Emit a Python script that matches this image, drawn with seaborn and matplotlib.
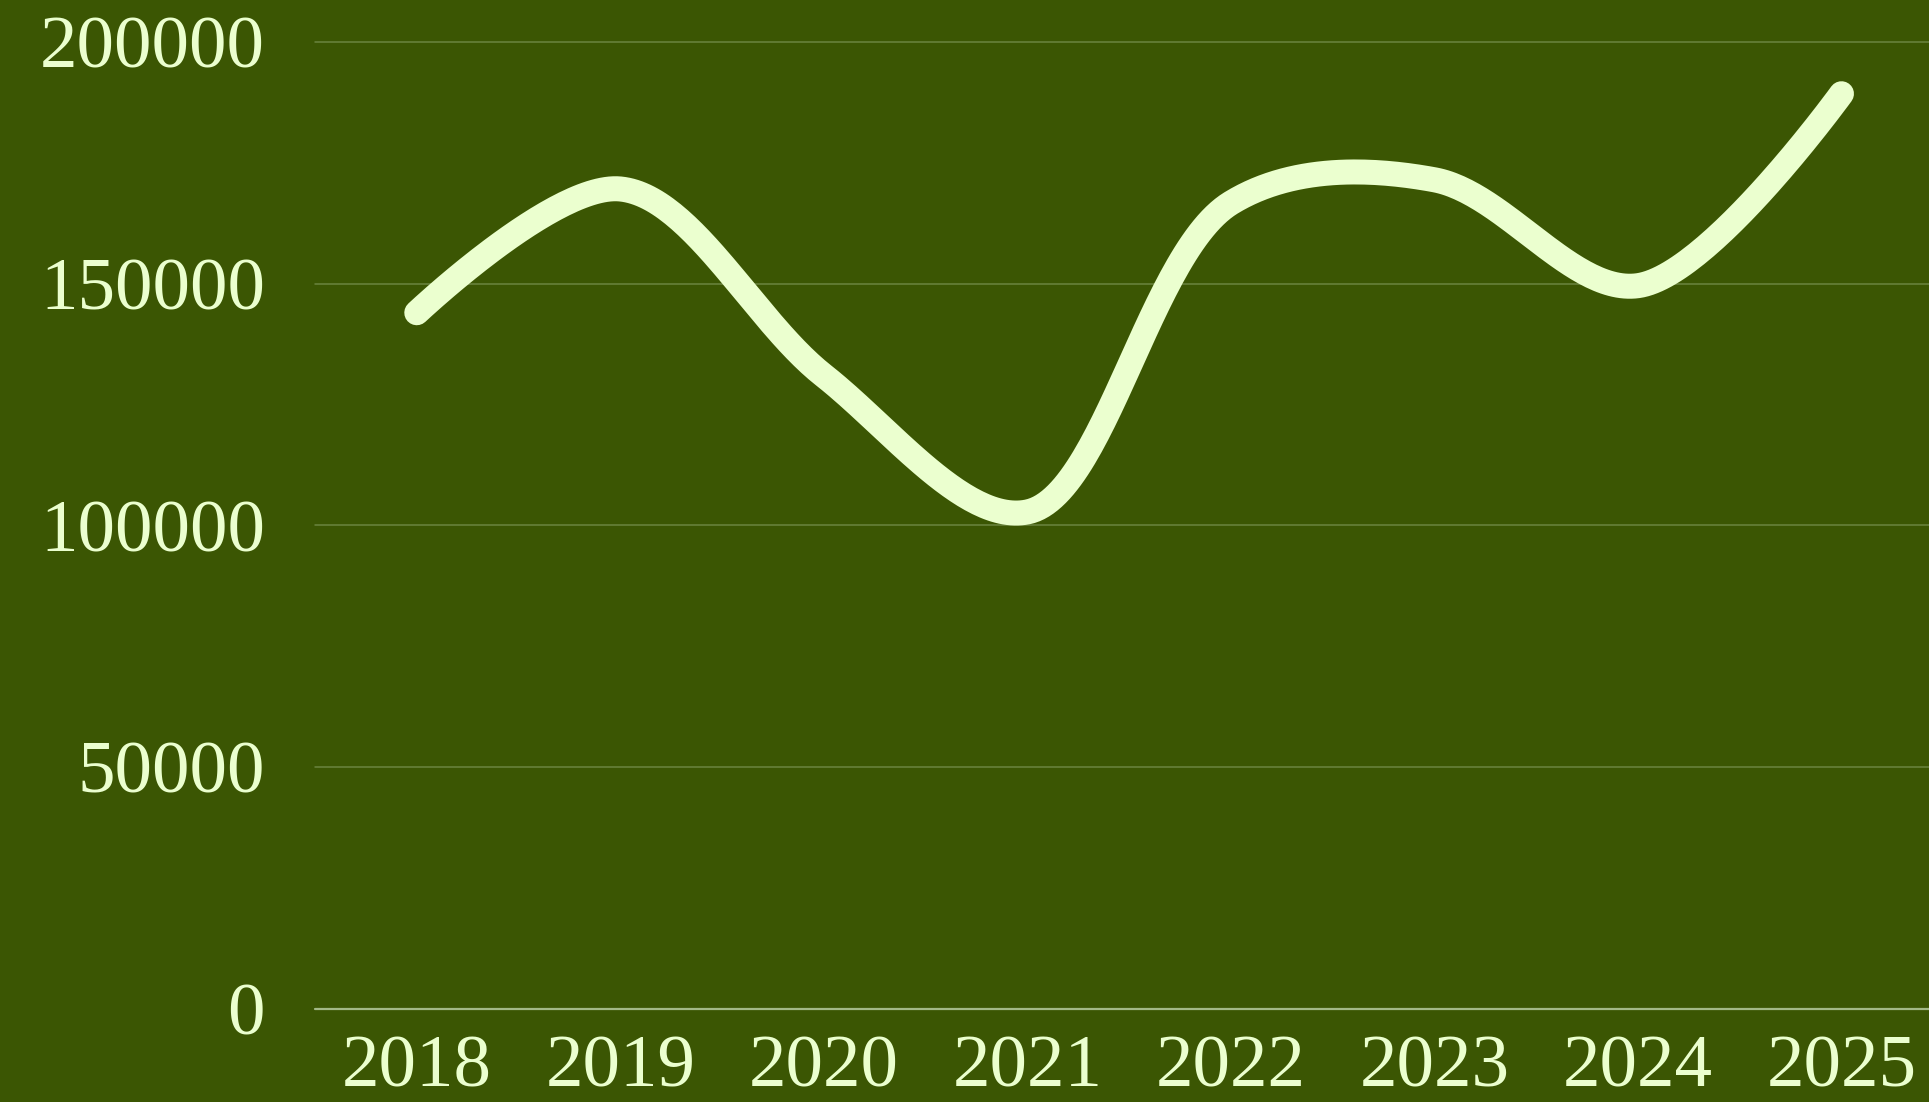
import numpy as np
import pandas as pd
import matplotlib
matplotlib.use("Agg")
import matplotlib.pyplot as plt
import seaborn as sns

years = ["2018", "2019", "2020", "2021", "2022", "2023", "2024", "2025"]
values = [144000, 169600, 131000, 102800, 166700, 171500, 149600, 189300]
y_ticks = [0, 50000, 100000, 150000, 200000]

BG = "#3b5603"
FG = "#ebffcf"

sns.set_theme(style="dark")
plt.rcParams["font.family"] = ["Liberation Serif", "DejaVu Serif"]


def catmull_rom_d3(pts, alpha=0.5, n=60):
    """Centripetal Catmull-Rom as in d3.curveCatmullRom, in pixel space."""
    pts = [np.asarray(p, float) for p in pts]
    N = len(pts)
    out = [pts[0]]
    t = np.linspace(0, 1, n)[1:]
    for i in range(N - 1):
        p1, p2 = pts[i], pts[i + 1]
        p0 = pts[i - 1] if i > 0 else None
        p3 = pts[i + 2] if i + 2 < N else None
        l12_2a = np.sum((p2 - p1) ** 2) ** alpha
        l12_a = np.sqrt(l12_2a)
        c1 = p1.copy()
        c2 = p2.copy()
        if p0 is not None:
            l01_2a = np.sum((p1 - p0) ** 2) ** alpha
            l01_a = np.sqrt(l01_2a)
            a = 2 * l01_2a + 3 * l01_a * l12_a + l12_2a
            m = 3 * l01_a * (l01_a + l12_a)
            c1 = (p1 * a - p0 * l12_2a + p2 * l01_2a) / m
        if p3 is not None:
            l23_2a = np.sum((p3 - p2) ** 2) ** alpha
            l23_a = np.sqrt(l23_2a)
            b = 2 * l23_2a + 3 * l23_a * l12_a + l12_2a
            m = 3 * l23_a * (l23_a + l12_a)
            c2 = (p2 * b + p1 * l23_2a - p3 * l12_2a) / m
        tt = t[:, None]
        seg = ((1 - tt) ** 3) * p1 + 3 * ((1 - tt) ** 2) * tt * c1 \
            + 3 * (1 - tt) * tt ** 2 * c2 + tt ** 3 * p2
        out.extend(seg)
    return np.array(out)


fig = plt.figure(figsize=(19.29, 11.02), dpi=100, facecolor=BG)
ax = fig.add_axes([0.1633, 0.0844, 0.8367, 0.8775])
ax.set_facecolor(BG)
ax.set_xlim(-0.5, 7.43)
ax.set_ylim(0, 200000)

xpos = np.arange(len(years))
disp = ax.transData.transform(np.column_stack([xpos, values]))
disp_curve = catmull_rom_d3(disp)
data_curve = ax.transData.inverted().transform(disp_curve)
curve = pd.DataFrame({"x": data_curve[:, 0], "y": data_curve[:, 1]})

sns.lineplot(data=curve, x="x", y="y", ax=ax, color=FG, linewidth=18,
             solid_capstyle="round", solid_joinstyle="round", sort=False,
             estimator=None, zorder=3)

ax.set_xlim(-0.5, 7.43)
ax.set_ylim(0, 200000)
ax.set_xticks(xpos)
ax.set_xticklabels(years)
ax.set_yticks(y_ticks)
ax.set_yticklabels([str(v) for v in y_ticks])
ax.set_xlabel("")
ax.set_ylabel("")
ax.tick_params(axis="both", length=0, colors=FG, labelsize=54)
ax.tick_params(axis="y", pad=36)
ax.tick_params(axis="x", pad=19)

for v in y_ticks[1:]:
    ax.axhline(v, color="#6b8440", linewidth=1.1, zorder=1)
ax.axhline(0, color="#a3b987", linewidth=1.6, zorder=2)

for s in ax.spines.values():
    s.set_visible(False)
ax.grid(False)
for line in ax.lines:
    line.set_clip_on(False)

fig.savefig("out.png", dpi=100, facecolor=BG)
